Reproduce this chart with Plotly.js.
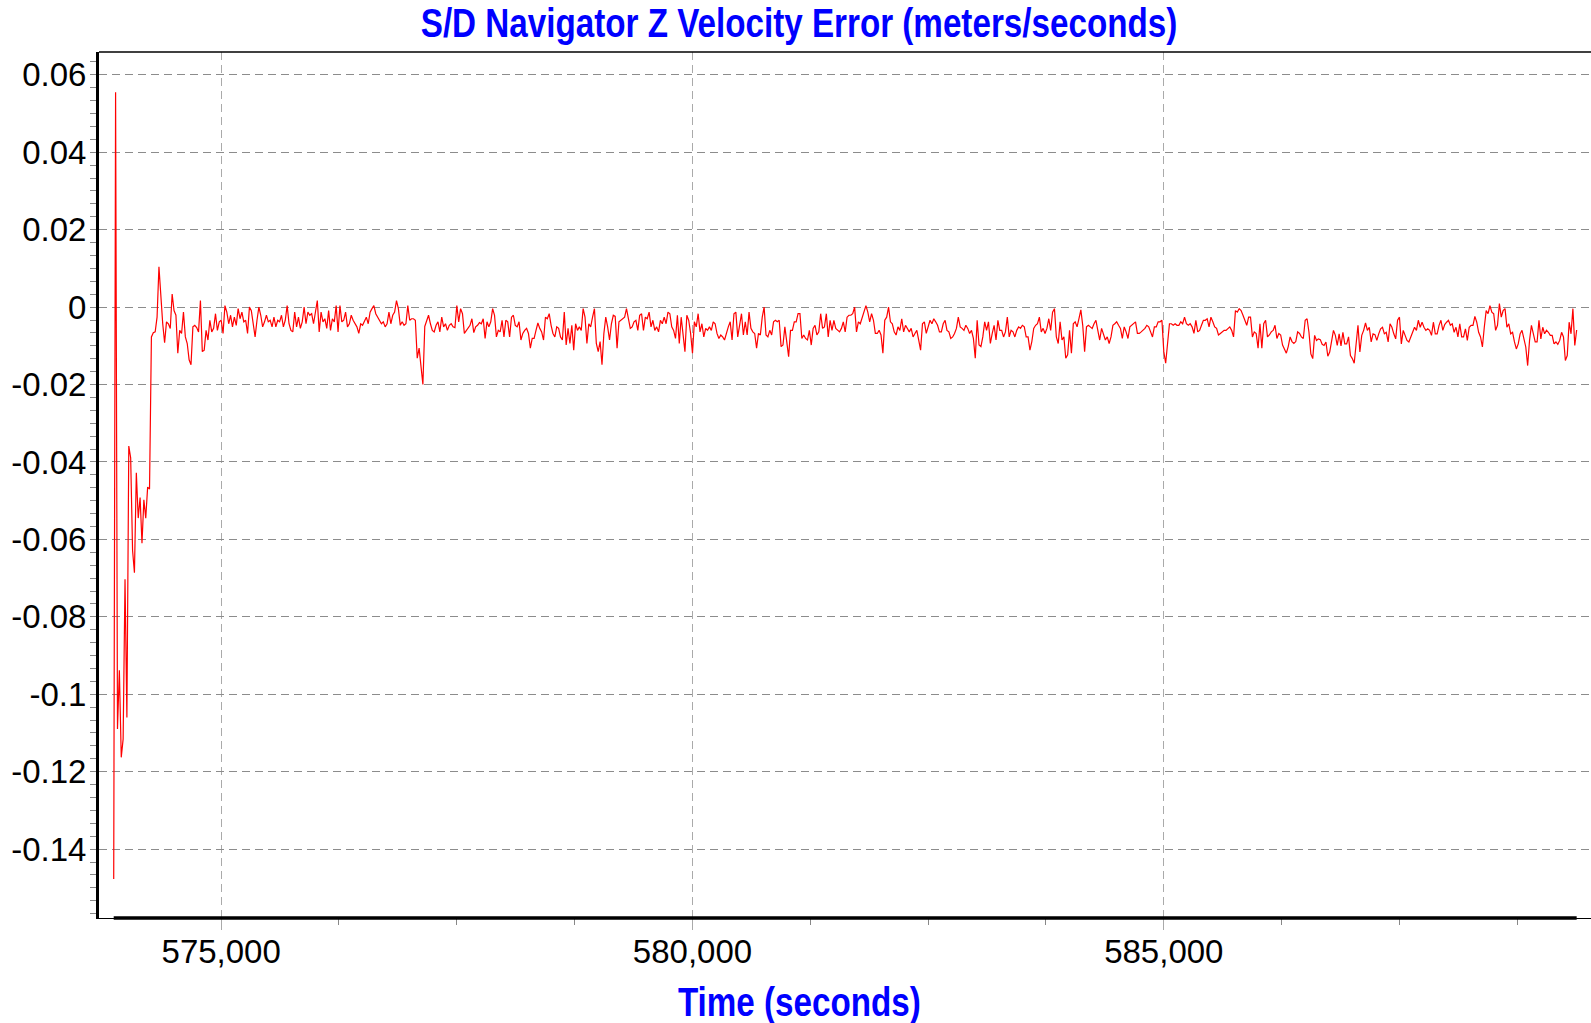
<!DOCTYPE html>
<html><head><meta charset="utf-8">
<script src="https://cdn.plot.ly/plotly-3.0.1.min.js"></script>
<style>html,body{margin:0;padding:0;background:#fff;overflow:hidden}#chart{width:1591px;height:1023px}</style>
</head><body><div id="chart"></div>
<script>
const chartTitle = "S/D Navigator Z Velocity Error (meters/seconds)";
const xAxisTitle = "Time (seconds)";
const timeStart = 573860;   // seconds, first sample
const timeStep = 20;        // seconds between samples
const yTickVals = [0.06, 0.04, 0.02, 0, -0.02, -0.04, -0.06, -0.08, -0.1, -0.12, -0.14];
const yTickText = ["0.06", "0.04", "0.02", "0", "-0.02", "-0.04", "-0.06", "-0.08", "-0.1", "-0.12", "-0.14"];
const xTickVals = [575000, 580000, 585000];
const xTickText = ["575,000", "580,000", "585,000"];

// Z velocity error (m/s)
const errStartup = [-0.1477, 0.0555, -0.109, -0.0938, -0.1163, -0.1116, -0.0703, -0.106, -0.0359, -0.0389,
  -0.0628, -0.0686, -0.0428, -0.0545, -0.0492, -0.061, -0.0498, -0.0545, -0.0465, -0.047];
const errSeg1 = [-0.0077, -0.0066, -0.0064, -0.0026, 0.0104, 0.002, -0.0043, -0.0092, -0.0038, -0.0043,
  -0.0055, 0.0034, -0.0009, -0.0021, -0.0119, -0.006, -0.0068, -0.0013, -0.0077, -0.0094,
  -0.0136, -0.0149, -0.0051, -0.0047, -0.0053, -0.0064, 0.0017, -0.0115, -0.0111, -0.006,
  -0.0085, -0.0034, -0.0064, -0.0055, -0.0017, -0.006, -0.0038, -0.0034, -0.0068, 0.0004,
  -0.0013, -0.0043, -0.0021, -0.0051, -0.0026, -0.0047, -0.0004, -0.003, -0.0013, -0.0038,
  -0.0034, -0.0068, 0, -0.0009, -0.0051, -0.0077, -0.0034, 0, -0.0021, -0.0051,
  -0.0038, -0.0021, -0.0038, -0.0034, -0.0051, -0.0026, -0.0051, -0.0034, -0.0038, -0.0021,
  -0.0051, -0.0034, 0.0004, -0.0043, -0.006, -0.0064, -0.0013, -0.0051, -0.0026, -0.0055,
  -0.0038, 0, -0.0043, -0.0013, -0.0021, -0.0017, -0.0043, -0.0009, 0.0017, -0.0064,
  -0.0013, -0.0038, -0.003, -0.0055, -0.0009, -0.006, -0.003, -0.0038, 0.0004, -0.0064,
  0.0004, -0.0038, -0.0034, -0.0013, -0.0051, -0.0043, -0.0021, -0.0034, -0.0043, -0.0051,
  -0.0068, -0.0043, -0.0047, -0.0038, -0.0026, -0.0043, -0.0013, -0.0004, 0.0004, -0.0017,
  -0.0026, -0.0034, -0.0043, -0.0038, -0.0051, -0.0043, -0.0013, -0.0043, -0.0021, -0.0013,
  0.0017, -0.0004, -0.0047, -0.0038, -0.0047, -0.0043, 0.0004, -0.0034, -0.003, -0.003,
  -0.0034, -0.0132, -0.0106, -0.0153, -0.02, -0.005, -0.0038, -0.0021, -0.0043, -0.006,
  -0.0064, -0.0047, -0.0038, -0.0064, -0.0026, -0.0051, -0.0043, -0.006];
const errSeg2 = [-0.0047, -0.0043, -0.0051, -0.0053, 0.0004, -0.0038, -0.0004, -0.0017, -0.0068, -0.006,
  -0.0055, -0.0047, -0.003, -0.0066, -0.0051, -0.0047, -0.004, -0.0043, -0.003, -0.0081,
  -0.0038, -0.0051, -0.0038, -0.0004, -0.0021, -0.0077, -0.006, -0.0064, -0.0034, -0.0077,
  -0.0034, -0.0038, -0.0077, -0.0026, -0.0021, -0.0047, -0.0051, -0.0038, -0.0085, -0.0068,
  -0.006, -0.0055, -0.0068, -0.0106, -0.0081, -0.0081, -0.006, -0.0041, -0.0055, -0.0064,
  -0.0085, -0.0026, -0.003, -0.0017, -0.0047, -0.0068, -0.0077, -0.0051, -0.0055, -0.0077,
  -0.0085, -0.0013, -0.0098, -0.0055, -0.0094, -0.0047, -0.0111, -0.0043, -0.006, -0.0051,
  -0.006, -0.0004, -0.0026, -0.0094, -0.0043, -0.0051, -0.0026, -0.0004, -0.0094, -0.0115,
  -0.0089, -0.0149, -0.0068, -0.0026, -0.0051, -0.0085, -0.0043, -0.0021, -0.0024, -0.0106,
  -0.0038, -0.0034, -0.003, -0.0026, -0.0004, -0.0034, -0.0055, -0.0051, -0.0038, -0.0034,
  -0.006, -0.0021, -0.0017, -0.006, -0.0026, -0.003, -0.0013, -0.0051, -0.0034, -0.006,
  -0.0051, -0.0064, -0.0034, -0.0043, -0.0026, -0.0043, -0.0013, -0.0017, -0.0051, -0.006,
  -0.0081, -0.0021, -0.0094, -0.0026, -0.0081, -0.0115, -0.0021, -0.0034, -0.0068, -0.0119,
  -0.0038, -0.0051, -0.0017, -0.0064, -0.0043, -0.0077, -0.0055, -0.006, -0.0051, -0.006,
  -0.0038, -0.0043, -0.0068, -0.0081, -0.0072, -0.0077, -0.0085, -0.0064, -0.0051, -0.0038,
  -0.0085, -0.0017, -0.0013, -0.0077, -0.0043, -0.0017, -0.0072, -0.0038, -0.0072, -0.0013];
const errSeg3 = [-0.0055, -0.0064, -0.0068, -0.0106, -0.0068, -0.0072, -0.0026, 0, -0.0072, -0.0077,
  -0.006, -0.0072, -0.0038, -0.0034, -0.0038, -0.0034, -0.0102, -0.0098, -0.0051, -0.0094,
  -0.0128, -0.006, -0.006, -0.0038, -0.0038, -0.0017, -0.0017, -0.0081, -0.0072, -0.0081,
  -0.0085, -0.006, -0.0098, -0.0055, -0.0047, -0.0072, -0.0064, -0.0017, -0.0055, -0.0051,
  -0.0017, -0.0077, -0.0034, -0.006, -0.0034, -0.0055, -0.006, -0.0064, -0.0055, -0.0038,
  -0.0064, -0.0026, -0.0021, -0.0021, -0.0017, 0, -0.0064, -0.0038, -0.0043, -0.0026,
  -0.0009, 0.0004, -0.0013, -0.0038, -0.0017, -0.0034, -0.0068, -0.0068, -0.006, -0.0072,
  -0.0119, -0.0034, -0.0026, 0, -0.0038, -0.0043, -0.0064, -0.0072, -0.0051, -0.006,
  -0.003, -0.0064, -0.0047, -0.0055, -0.0064, -0.0055, -0.0077, -0.0068, -0.006, -0.0085,
  -0.0111, -0.0043, -0.0038, -0.0068, -0.0051, -0.0034, -0.0043, -0.003, -0.0038, -0.0047,
  -0.0064, -0.0064, -0.0043, -0.0034, -0.006, -0.0064, -0.0081, -0.0077, -0.0068, -0.0055,
  -0.0026, -0.0051, -0.0055, -0.006, -0.0047, -0.0055, -0.0068, -0.006, -0.0081, -0.0132,
  -0.0034, -0.0098, -0.0102, -0.0077, -0.0038, -0.006, -0.0038, -0.0094, -0.0068, -0.0047,
  -0.0085, -0.0034, -0.006, -0.006, -0.0077, -0.0064, -0.0026, -0.0077, -0.006, -0.0064,
  -0.0077, -0.006, -0.0051, -0.0055, -0.0047, -0.0051, -0.0077, -0.0077, -0.0111, -0.0089,
  -0.0055, -0.0047, -0.0043, -0.0026, -0.0064, -0.0055, -0.0068, -0.0055];
const errSeg4 = [-0.003, -0.006, -0.0013, -0.0004, -0.0077, -0.0094, -0.0038, -0.0085, -0.0077, -0.0132,
  -0.0123, -0.006, -0.0119, -0.0043, -0.0038, -0.0051, -0.003, -0.0007, -0.0047, -0.0115,
  -0.0051, -0.0047, -0.0051, -0.0055, -0.0043, -0.0034, -0.006, -0.0085, -0.0055, -0.0072,
  -0.0085, -0.0077, -0.0094, -0.0077, -0.0047, -0.0043, -0.0038, -0.0047, -0.0055, -0.0081,
  -0.0051, -0.0064, -0.0081, -0.0051, -0.0047, -0.0043, -0.0038, -0.0068, -0.0068, -0.0064,
  -0.006, -0.0055, -0.0047, -0.0051, -0.0064, -0.0077, -0.0051, -0.0051, -0.0038, -0.0038,
  -0.0034, -0.0115, -0.0145, -0.0094, -0.0043, -0.0043, -0.0047, -0.0043, -0.0047, -0.0047,
  -0.0038, -0.0043, -0.0026, -0.0043, -0.0047, -0.0043, -0.0051, -0.0068, -0.0034, -0.0064,
  -0.006, -0.0047, -0.0034, -0.0034, -0.003, -0.0051, -0.0026, -0.0038, -0.0051, -0.0055,
  -0.0072, -0.0068, -0.0064, -0.006, -0.006, -0.0055, -0.0051, -0.006, -0.0077, -0.0009,
  -0.0013, -0.0004, -0.0009, -0.0021, -0.0034, -0.0047, -0.0026, -0.0026, -0.0077, -0.0064,
  -0.0068, -0.0106, -0.0043, -0.0106, -0.0043, -0.0034, -0.0077, -0.0072, -0.0064, -0.006,
  -0.0047, -0.0081, -0.0068, -0.0072, -0.0098, -0.0111, -0.0119, -0.0102, -0.0077, -0.0089,
  -0.0094, -0.0089, -0.0064, -0.0068, -0.0077, -0.0081, -0.0034, -0.003];
const errSeg5 = [-0.0065, -0.0121, -0.0133, -0.0073, -0.0086, -0.0082, -0.0084, -0.0096, -0.0099, -0.009,
  -0.0127, -0.0116, -0.0082, -0.006, -0.0073, -0.0099, -0.0069, -0.01, -0.0065, -0.0095,
  -0.0095, -0.0077, -0.0125, -0.0133, -0.0145, -0.0086, -0.0047, -0.0116, -0.0073, -0.006,
  -0.0041, -0.006, -0.0052, -0.009, -0.0069, -0.0071, -0.0086, -0.0069, -0.0056, -0.0052,
  -0.0069, -0.0065, -0.009, -0.0043, -0.0052, -0.0069, -0.0082, -0.0034, -0.0026, -0.0095,
  -0.006, -0.0073, -0.0086, -0.009, -0.0077, -0.006, -0.0052, -0.006, -0.0034, -0.0052,
  -0.0039, -0.0052, -0.006, -0.0056, -0.006, -0.0073, -0.0039, -0.0069, -0.0069, -0.0047,
  -0.0034, -0.006, -0.0045, -0.0039, -0.0034, -0.0047, -0.0043, -0.0065, -0.0052, -0.0077,
  -0.0043, -0.0077, -0.0077, -0.0056, -0.0086, -0.0052, -0.0047, -0.0047, -0.0024, -0.0039,
  -0.0065, -0.0077, -0.0103, -0.0052, -0.0009, -0.0017, 0.0004, -0.0013, -0.0017, -0.006,
  -0.0047, 0.0009, -0.0026, -0.0009, -0.0004, -0.0052, -0.0043, -0.0069, -0.0065, -0.009,
  -0.0108, -0.0095, -0.0069, -0.006, -0.0086, -0.0103, -0.0151, -0.0086, -0.0047, -0.0065,
  -0.009, -0.009, -0.0034, -0.0082, -0.0052, -0.0069, -0.006, -0.0065, -0.0073, -0.0073,
  -0.0095, -0.009, -0.0096, -0.0086, -0.0065, -0.0077, -0.0138, -0.0125, -0.0039, -0.0069,
  -0.0004, -0.0099, -0.0059];

const zVelErr = errStartup.concat(errSeg1, errSeg2, errSeg3, errSeg4, errSeg5);
const timeEnd = timeStart + (zVelErr.length - 1) * timeStep;

const xRange = [573704, 589532];
const yRange = [-0.1578, 0.0659];

// minor tick positions (axis decoration only)
const xMinor = [];
for (let v = 575000; v <= xRange[1]; v += 1250) xMinor.push(v);
const yMinor = [];
for (let k = -47; k <= 19; k++) yMinor.push(k * 0.02 / 6);

const titleFont = {family: '"Liberation Sans", Arial, sans-serif', size: 40, color: '#0000ff', weight: 'bold'};
const tickFont = {family: '"Liberation Sans", Arial, sans-serif', size: 33, color: '#000000'};
const narrowFactor = 0.83;  // the titles use a condensed face

const trace = {
  type: 'scatter', mode: 'lines',
  x0: timeStart, dx: timeStep, y: zVelErr,
  line: {color: '#ff0000', width: 1.2},
  name: 'Z Velocity Error'
};

const layout = {
  width: 1591, height: 1023,
  margin: {l: 99, r: 0, t: 52, b: 104.5, pad: 0},
  paper_bgcolor: '#ffffff', plot_bgcolor: '#ffffff',
  showlegend: false,
  title: {text: chartTitle, font: titleFont, xref: 'container', x: 799 / 1591, xanchor: 'center',
          yref: 'container', y: 1 - 22.5 / 1023, yanchor: 'middle'},
  xaxis: {
    range: xRange, tickmode: 'array', tickvals: xTickVals, ticktext: xTickText,
    ticks: 'outside', ticklen: 11, tickwidth: 1, tickcolor: '#aaaaaa',
    ticklabelstandoff: -7,
    showgrid: true, gridcolor: '#aaaaaa', gridwidth: 1, griddash: '8px,5px',
    showline: true, linecolor: '#000000', linewidth: 1.3, zeroline: false,
    tickfont: tickFont,
    minor: {tickmode: 'array', tickvals: xMinor, ticks: 'outside', ticklen: 6, tickwidth: 1, tickcolor: '#888888', showgrid: false}
  },
  yaxis: {
    range: yRange, tickmode: 'array', tickvals: yTickVals, ticktext: yTickText,
    ticks: 'outside', ticklen: 6, tickwidth: 1, tickcolor: '#888888',
    ticklabelstandoff: -3,
    showgrid: true, gridcolor: '#8c8c8c', gridwidth: 1, griddash: '8px,5px',
    showline: true, linecolor: '#000000', linewidth: 3, zeroline: false,
    tickfont: tickFont,
    minor: {tickmode: 'array', tickvals: yMinor, ticks: 'outside', ticklen: 6, tickwidth: 1, tickcolor: '#888888', showgrid: false}
  },
  shapes: [
    {type: 'line', xref: 'paper', yref: 'paper', x0: 0, x1: 1, y0: 1, y1: 1, line: {color: '#000000', width: 1.3}},
    {type: 'line', xref: 'x', yref: 'paper', x0: timeStart, x1: timeEnd, y0: 0, y1: 0, line: {color: '#000000', width: 3.5}}
  ],
  annotations: [
    {text: xAxisTitle, xref: 'paper', yref: 'paper', x: (799 - 99) / 1492, y: -(1003 - 918.5) / 866.5,
     xanchor: 'center', yanchor: 'middle', showarrow: false, font: titleFont}
  ]
};

Plotly.newPlot('chart', [trace], layout, {staticPlot: true, displayModeBar: false}).then(function (gd) {
  gd.querySelectorAll('.gtitle, .annotation-text').forEach(function (el) {
    const w = el.getComputedTextLength();
    if (w > 0) {
      el.setAttribute('textLength', (w * narrowFactor).toFixed(1));
      el.setAttribute('lengthAdjust', 'spacingAndGlyphs');
    }
  });
});
</script>
</body></html>
